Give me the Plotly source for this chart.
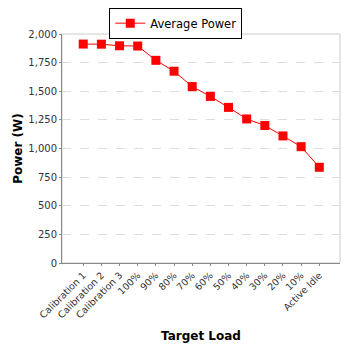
import plotly.graph_objects as go

categories = ["Calibration 1", "Calibration 2", "Calibration 3", "100%", "90%", "80%",
              "70%", "60%", "50%", "40%", "30%", "20%", "10%", "Active Idle"]
avg_power = [1912, 1911, 1897, 1895, 1770, 1675, 1541, 1455, 1359, 1258, 1201, 1110, 1016, 836]
y_ticks = [0, 250, 500, 750, 1000, 1250, 1500, 1750, 2000]
y_tick_text = ["0", "250", "500", "750", "1,000", "1,250", "1,500", "1,750", "2,000"]

fig = go.Figure()
fig.add_trace(go.Scatter(
    x=list(range(len(categories))), y=avg_power, mode="lines+markers",
    name="Average Power",
    line=dict(color="#ff0000", width=1),
    marker=dict(symbol="square", size=9, color="#ff0000"),
))

fig.update_layout(
    width=348, height=348,
    margin=dict(l=62, r=8, t=29, b=85),
    paper_bgcolor="white", plot_bgcolor="white",
    font=dict(family="DejaVu Sans", size=10, color="#333333"),
    showlegend=True,
    legend=dict(x=0.17, y=1.115, xanchor="left", yanchor="top",
                bordercolor="black", borderwidth=1, bgcolor="white",
                font=dict(size=11.5, color="black"),
                itemwidth=30, tracegroupgap=0),
    xaxis=dict(
        tickmode="array", tickvals=list(range(len(categories))), ticktext=categories,
        range=[-1.17, 14.14], tickangle=-45, showgrid=False, automargin=False,
        showline=True, linecolor="#888888", linewidth=1, mirror=False,
        ticks="outside", ticklen=2, tickcolor="#888888",
        tickfont=dict(size=9.5, color="#333333"),
        title=dict(text="<b>Target Load</b>", font=dict(size=12, color="black"), standoff=12),
        zeroline=False,
    ),
    yaxis=dict(
        range=[0, 2000], tickmode="array", tickvals=y_ticks, ticktext=y_tick_text,
        showgrid=True, gridcolor="#dddddd", griddash="dash", gridwidth=1, automargin=False,
        showline=True, linecolor="#888888", linewidth=1,
        ticks="outside", ticklen=2, tickcolor="#888888",
        tickfont=dict(size=10, color="#333333"),
        title=dict(text="<b>Power (W)</b>", font=dict(size=12, color="black"), standoff=3),
        zeroline=False,
    ),
)
# light outline on top and right of the plot area
fig.add_shape(type="rect", xref="paper", yref="paper", x0=0, y0=0, x1=1, y1=1,
              line=dict(color="#cccccc", width=1), layer="below")

fig.write_html("out.html")
